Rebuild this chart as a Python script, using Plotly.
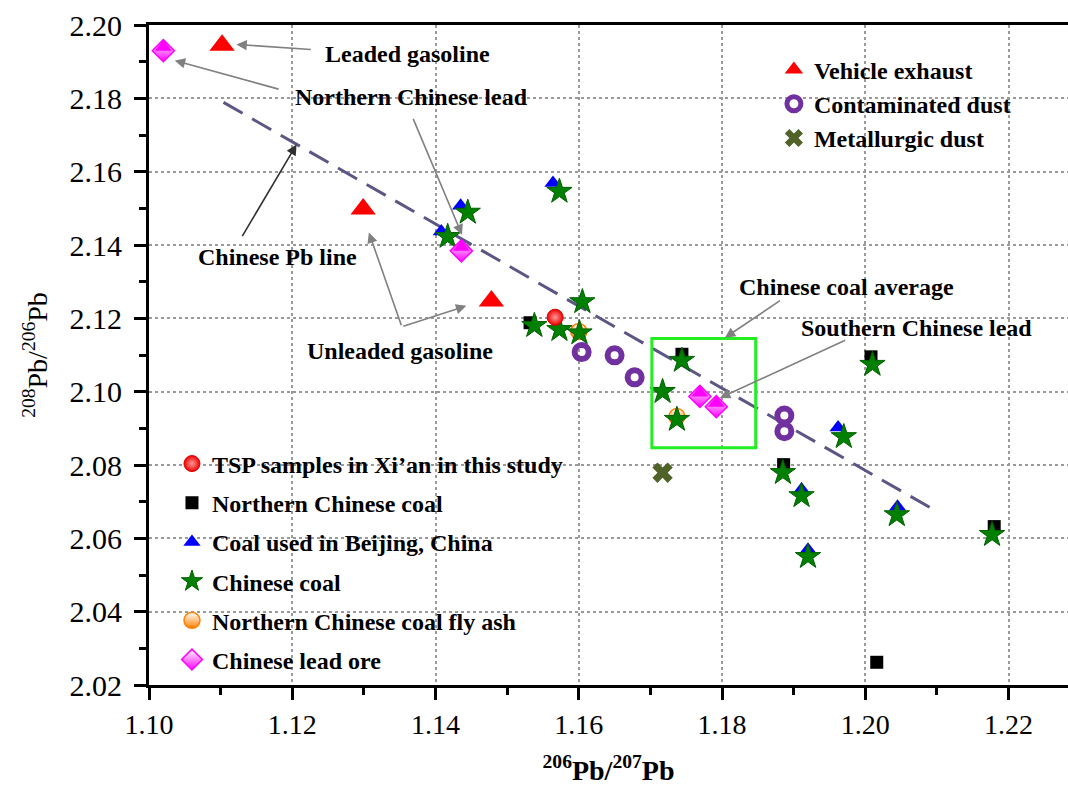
import plotly.graph_objects as go

# 206Pb/207Pb (x) and 208Pb/206Pb (y) for each source group
tsp_x = [1.1567]
tsp_y = [2.1203]

n_coal_x = [1.1532, 1.1744, 1.2008, 1.1886, 1.2180, 1.2016]
n_coal_y = [2.1188, 2.1102, 2.1095, 2.0801, 2.0632, 2.0262]

beijing_x = [1.1408, 1.1435, 1.1564, 1.1962, 1.1911, 1.2045, 1.1920]
beijing_y = [2.1437, 2.1507, 2.1569, 2.0902, 2.0733, 2.0686, 2.0569]

cn_coal_x = [1.1417, 1.1445, 1.1573, 1.1538, 1.1573, 1.1605, 1.1601, 1.1744,
             1.1717, 1.1737, 1.2010, 1.1970, 1.1885, 1.1911, 1.2044, 1.1920, 1.2177]
cn_coal_y = [2.1423, 2.1489, 2.1546, 2.1180, 2.1169, 2.1245, 2.1160, 2.1085,
             2.1000, 2.0924, 2.1074, 2.0877, 2.0779, 2.0716, 2.0664, 2.0550, 2.0610]

fly_ash_x = [1.1600, 1.1737]
fly_ash_y = [2.1164, 2.0932]

lead_ore_x = [1.1020, 1.1436, 1.1769, 1.1792]
lead_ore_y = [2.1930, 2.1384, 2.0987, 2.0959]

vehicle_x = [1.1102, 1.1299, 1.1478]
vehicle_y = [2.1945, 2.1498, 2.1247]

dust_x = [1.1604, 1.1650, 1.1678, 1.1887, 1.1887]
dust_y = [2.1108, 2.1099, 2.1039, 2.0935, 2.0892]

metal_x = [1.1717]
metal_y = [2.0779]

pb_line_x = [1.1104, 1.2094]
pb_line_y = [2.1789, 2.0680]

# Chinese coal average window
coal_box_x = [1.1702, 1.1847]
coal_box_y = [2.0847, 2.1145]

FONT = "Times New Roman, Liberation Serif, DejaVu Serif, serif"
DIAMOND_SIZE = 17

fig = go.Figure()

fig.add_trace(go.Scatter(
    x=pb_line_x, y=pb_line_y, mode="lines", showlegend=False,
    line=dict(color="#5c5685", width=3, dash="22px,11px")))

fig.add_trace(go.Scatter(
    x=n_coal_x, y=n_coal_y, mode="markers", name="Northern Chinese coal",
    legend="legend2", legendrank=2, legendgroup="ncoal",
    marker=dict(symbol="square", size=13, color="black")))

fig.add_trace(go.Scatter(
    x=beijing_x, y=beijing_y, mode="markers", name="Coal used in Beijing, China",
    legend="legend2", legendrank=3, legendgroup="beijing",
    marker=dict(symbol="triangle-up", size=15, color="#0000ff")))

fig.add_trace(go.Scatter(
    x=fly_ash_x, y=fly_ash_y, mode="markers", name="Northern Chinese coal fly ash",
    legend="legend2", legendrank=5, legendgroup="flyash",
    marker=dict(symbol="circle", size=16, color="white",
                gradient=dict(type="vertical", color="#ff7f00"),
                line=dict(color="#ff7f00", width=1.5))))

fig.add_trace(go.Scatter(
    x=cn_coal_x, y=cn_coal_y, mode="markers", name="Chinese coal",
    legend="legend2", legendrank=4, legendgroup="cncoal",
    marker=dict(symbol="star", size=19, color="#008000",
                line=dict(color="#006000", width=1))))

fig.add_trace(go.Scatter(
    x=tsp_x, y=tsp_y, mode="markers", name="TSP samples in Xi\u2019an in this study",
    legend="legend2", legendrank=1, legendgroup="tsp",
    marker=dict(symbol="circle", size=16, color="#ee0000",
                gradient=dict(type="radial", color="#ff9a9a"),
                line=dict(color="#dd0000", width=1))))

fig.add_trace(go.Scatter(
    x=lead_ore_x, y=lead_ore_y, mode="markers", name="Chinese lead ore",
    legend="legend2", legendrank=6, legendgroup="ore",
    marker=dict(symbol="diamond", size=DIAMOND_SIZE, color="white",
                gradient=dict(type="vertical", color="#ff00ff"),
                line=dict(color="#ff00ff", width=1.5))))

# filled upper half of the lead-ore diamonds
half_size = DIAMOND_SIZE * 1.3 / 1.5
fig.add_trace(go.Scatter(
    x=lead_ore_x, y=lead_ore_y, mode="markers", showlegend=False,
    marker=dict(symbol="triangle-down", size=half_size, angle=180,
                standoff=half_size / 4, color="#ff00ff", line=dict(width=0))))

fig.add_trace(go.Scatter(
    x=vehicle_x, y=vehicle_y, mode="markers", name="Vehicle exhaust",
    legend="legend", legendrank=1,
    marker=dict(symbol="triangle-up", size=22, color="#ff0000")))

fig.add_trace(go.Scatter(
    x=dust_x, y=dust_y, mode="markers", name="Contaminated dust",
    legend="legend", legendrank=2,
    marker=dict(symbol="circle-open", size=14, color="#7030a0",
                line=dict(color="#7030a0", width=6))))

fig.add_trace(go.Scatter(
    x=metal_x, y=metal_y, mode="markers", name="Metallurgic dust",
    legend="legend", legendrank=3,
    marker=dict(symbol="x", size=18, color="#4f6228")))

fig.add_shape(type="rect", xref="x", yref="y",
              x0=coal_box_x[0], x1=coal_box_x[1], y0=coal_box_y[0], y1=coal_box_y[1],
              line=dict(color="#22ee22", width=3))


def label(text, x, y):
    fig.add_annotation(x=x, y=y, text=f"<b>{text}</b>", showarrow=False,
                       font=dict(family=FONT, size=24, color="black"))


def arrow(tail, head, color="#808080"):
    fig.add_annotation(x=head[0], y=head[1], ax=tail[0], ay=tail[1],
                       xref="x", yref="y", axref="x", ayref="y", text="",
                       showarrow=True, arrowhead=2, arrowsize=1.3, arrowwidth=1.6,
                       arrowcolor=color, standoff=0, startstandoff=0)


label("Leaded gasoline", 1.1361, 2.1922)
arrow((1.1228, 2.1933), (1.1122, 2.1947))

label("Northern Chinese lead", 1.1366, 2.1805)
arrow((1.1183, 2.1824), (1.1036, 2.1903))
arrow((1.1368, 2.1748), (1.1437, 2.1428))

label("Chinese Pb line", 1.1179, 2.1368)
arrow((1.1129, 2.1420), (1.1206, 2.1674), color="#303030")

label("Unleaded gasoline", 1.1351, 2.1112)
arrow((1.1353, 2.1177), (1.1307, 2.1434))
arrow((1.1353, 2.1177), (1.1443, 2.1234))

label("Chinese coal average", 1.1974, 2.1286)
arrow((1.1883, 2.1251), (1.1804, 2.1147))

label("Southern Chinese lead", 1.2071, 2.1175)
arrow((1.1974, 2.1142), (1.1797, 2.0983))

axis_common = dict(
    showline=True, linecolor="black", linewidth=3,
    ticks="outside", ticklen=12, tickwidth=2.5, tickcolor="black",
    showgrid=True, gridcolor="#9a9a9a", gridwidth=1.5, griddash="dot",
    zeroline=False, tickformat=".2f",
    minor=dict(ticks="outside", ticklen=7, tickwidth=2.5, tickcolor="black", showgrid=False),
)

fig.update_xaxes(
    range=[1.10, 1.2283], tick0=1.10, dtick=0.02, minor_dtick=0.01, mirror=True,
    tickfont=dict(family=FONT, size=28, color="black"),
    title=dict(text="<b><sup>206</sup>Pb/<sup>207</sup>Pb</b>", standoff=22,
               font=dict(family=FONT, size=28, color="black")),
    **axis_common)

fig.update_yaxes(
    range=[2.02, 2.20], tick0=2.02, dtick=0.02, minor_dtick=0.01,
    ticklabelstandoff=6,
    tickfont=dict(family=FONT, size=30, color="black"),
    title=dict(text="<sup>208</sup>Pb/<sup>206</sup>Pb", standoff=14,
               font=dict(family=FONT, size=28, color="black")),
    **axis_common)

legend_font = dict(family=FONT, size=24, color="black", weight="bold")
fig.update_layout(
    width=1068, height=790,
    margin=dict(l=149, r=0, t=25, b=105),
    plot_bgcolor="white", paper_bgcolor="white",
    font=dict(family=FONT, color="black"),
    legend=dict(x=0.68, y=0.966, xanchor="left", yanchor="top",
                bgcolor="rgba(0,0,0,0)", font=legend_font,
                itemsizing="trace", traceorder="normal"),
    legend2=dict(x=0.025, y=0.369, xanchor="left", yanchor="top",
                 bgcolor="rgba(0,0,0,0)", font=legend_font,
                 itemsizing="trace", traceorder="grouped", tracegroupgap=5),
)

fig.write_html("out.html")
